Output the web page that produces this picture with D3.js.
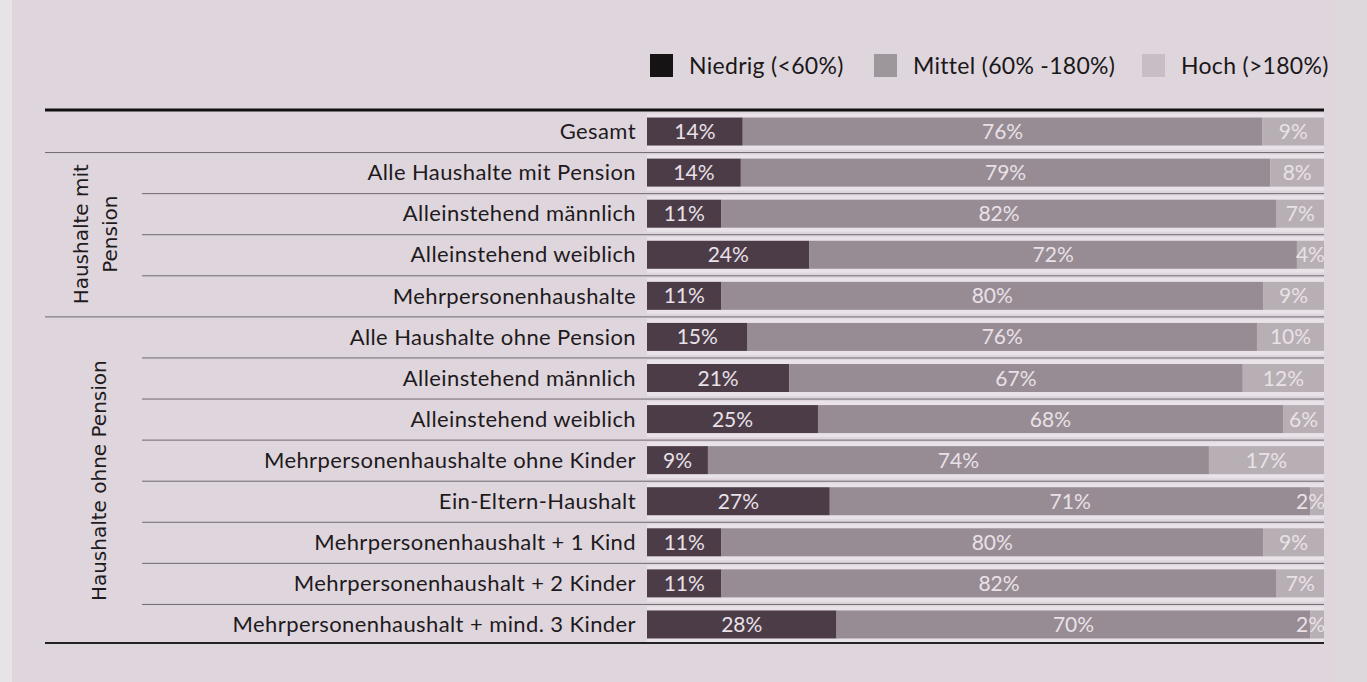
<!DOCTYPE html>
<html>
<head>
<meta charset="utf-8">
<script src="https://cdn.jsdelivr.net/npm/d3@7"></script>
<style>
  body { margin: 0; background: #ded6dc; }
  svg { display: block; }
</style>
</head>
<body>
<svg id="chart" width="1367" height="682"></svg>
<script>
// Einkommensgruppen nach Haushaltstyp (Anteile in %)
const kategorien = ["Gesamt", "Alle Haushalte mit Pension", "Alleinstehend männlich", "Alleinstehend weiblich",
  "Mehrpersonenhaushalte", "Alle Haushalte ohne Pension", "Alleinstehend männlich", "Alleinstehend weiblich",
  "Mehrpersonenhaushalte ohne Kinder", "Ein-Eltern-Haushalt", "Mehrpersonenhaushalt + 1 Kind",
  "Mehrpersonenhaushalt + 2 Kinder", "Mehrpersonenhaushalt + mind. 3 Kinder"];
const niedrig = [14, 14, 11, 24, 11, 15, 21, 25, 9, 27, 11, 11, 28];
const mittel  = [76, 79, 82, 72, 80, 76, 67, 68, 74, 71, 80, 82, 70];
const hoch    = [9, 8, 7, 4, 9, 10, 12, 6, 17, 2, 9, 7, 2];

const serien = ["niedrig", "mittel", "hoch"];
const legende = ["Niedrig (<60%)", "Mittel (60% -180%)", "Hoch (>180%)"];

// Gruppen (Index von - bis)
const gruppen = [
  {zeilen: ["Haushalte mit", "Pension"], von: 1, bis: 4},
  {zeilen: ["Haushalte ohne Pension"], von: 5, bis: 12}
];

const svg = d3.select("#chart");
const W = 1367, H = 682;

// Tabelle für d3.stack
const tabelle = kategorien.map((k, i) => ({i: i, niedrig: niedrig[i], mittel: mittel[i], hoch: hoch[i]}));
const stapel = d3.stack().keys(serien).offset(d3.stackOffsetExpand)(tabelle);

const x = d3.scaleLinear().domain([0, 1]).range([647, 1324]);
const y = d3.scaleBand().domain(d3.range(kategorien.length)).range([111, 645]).paddingInner(0).paddingOuter(0);
const farbe = d3.scaleOrdinal().domain(serien).range(["#4b3c47", "#978c94", "#b8afb5"]);
const legFarbe = d3.scaleOrdinal().domain(serien).range(["#161315", "#9d979b", "#c6bec4"]);

const barH = 28;

// Hintergrund (Scan: links heller Rand)
svg.append("rect").attr("x", 0).attr("y", 0).attr("width", W).attr("height", H).attr("fill", "#ded6dc");
svg.append("rect").attr("x", 0).attr("y", 0).attr("width", 12).attr("height", H).attr("fill", "#e6e4e6");
svg.append("rect").attr("x", 1336).attr("y", 0).attr("width", W - 1336).attr("height", H).attr("fill", "#dcd8db");

// helle Bänder hinter den Balken
svg.append("g").selectAll("rect")
  .data(tabelle)
  .join("rect")
  .attr("x", x(0))
  .attr("y", d => y(d.i) + y.bandwidth() / 2 - 18)
  .attr("width", x(1) - x(0))
  .attr("height", 36)
  .attr("fill", "#e9e2e8");

// Trennlinien zwischen den Zeilen
const linien = svg.append("g");
d3.range(1, kategorien.length).forEach(i => {
  const gruppenGrenze = (i === 1 || i === 5);
  linien.append("line")
    .attr("x1", gruppenGrenze ? 45 : 142)
    .attr("x2", x(1))
    .attr("y1", y(i) + 0.5)
    .attr("y2", y(i) + 0.5)
    .attr("stroke", "#6f686d")
    .attr("stroke-width", 1);
});

// Balken
const balken = svg.append("g");
stapel.forEach(s => {
  balken.selectAll("rect.b-" + s.key)
    .data(s)
    .join("rect")
    .attr("class", "b-" + s.key)
    .attr("x", d => x(d[0]))
    .attr("y", d => y(d.data.i) + y.bandwidth() / 2 - barH / 2)
    .attr("width", d => x(d[1]) - x(d[0]))
    .attr("height", barH)
    .attr("fill", farbe(s.key));
});

// Werte in den Balken
const werte = svg.append("g")
  .attr("font-family", "Lato, 'Open Sans', sans-serif")
  .attr("font-size", 21)
  .attr("fill", "#e9e1e7");
stapel.forEach(s => {
  werte.selectAll("text.w-" + s.key)
    .data(s)
    .join("text")
    .attr("class", "w-" + s.key)
    .attr("y", d => y(d.data.i) + y.bandwidth() / 2)
    .attr("dy", "0.36em")
    .attr("text-anchor", "middle")
    .text(d => d.data[s.key] + "%")
    .attr("x", function(d) {
      const mitte = (x(d[0]) + x(d[1])) / 2;
      const w = this.getComputedTextLength();
      return Math.min(mitte, x(1) + 1 - w / 2);
    });
});

// Zeilenbeschriftung
svg.append("g")
  .attr("font-family", "Lato, 'Open Sans', sans-serif")
  .attr("font-size", 22)
  .attr("letter-spacing", 0.4)
  .attr("fill", "#1e1a1d")
  .attr("text-anchor", "end")
  .selectAll("text")
  .data(kategorien)
  .join("text")
  .attr("x", 636)
  .attr("y", (d, i) => y(i) + y.bandwidth() / 2)
  .attr("dy", "0.35em")
  .text(d => d);

// Gruppenbeschriftung (gedreht)
const gg = svg.append("g")
  .attr("font-family", "'DejaVu Sans', sans-serif")
  .attr("font-size", 20)
  .attr("fill", "#1e1a1d")
  .attr("text-anchor", "middle");
gruppen.forEach(g => {
  const mitteY = (y(g.von) + y(g.bis) + y.bandwidth()) / 2;
  const n = g.zeilen.length;
  g.zeilen.forEach((z, j) => {
    const cx = n === 1 ? 106 : 88 + j * 29;
    gg.append("text")
      .attr("transform", `translate(${cx},${mitteY}) rotate(-90)`)
      .text(z);
  });
});

// obere und untere Linie
svg.append("line").attr("x1", 45).attr("x2", x(1)).attr("y1", 110).attr("y2", 110)
  .attr("stroke", "#111").attr("stroke-width", 3);
svg.append("line").attr("x1", 45).attr("x2", x(1)).attr("y1", 643).attr("y2", 643)
  .attr("stroke", "#222").attr("stroke-width", 2);

// Legende
const legPos = [650, 874, 1142];
const leg = svg.append("g").attr("font-family", "Lato, 'Open Sans', sans-serif").attr("font-size", 23)
  .attr("letter-spacing", 0.3).attr("fill", "#1a1719");
serien.forEach((s, i) => {
  leg.append("rect").attr("x", legPos[i]).attr("y", 54).attr("width", 23).attr("height", 23).attr("fill", legFarbe(s));
  leg.append("text").attr("x", legPos[i] + 39).attr("y", 66).attr("dy", "0.35em").text(legende[i]);
});
</script>
</body>
</html>
